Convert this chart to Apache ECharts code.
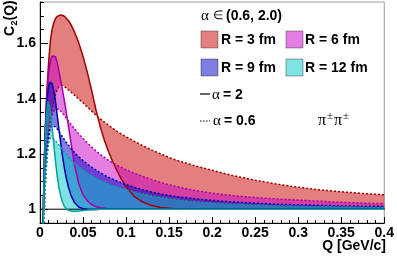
<!DOCTYPE html>
<html><head><meta charset="utf-8">
<script src="https://cdn.jsdelivr.net/npm/echarts@6/dist/echarts.min.js"></script>
<style>html,body{margin:0;padding:0;background:#fff}#c{width:397px;height:257px}</style>
</head><body><div id="c"></div>
<script>
// Q grid [GeV/c]
const Q = [0.002,0.003,0.004,0.005,0.006,0.007,0.008,0.009,0.010,0.011,0.012,0.013,0.014,
0.016,0.018,0.020,0.022,0.024,0.026,0.028,0.030,0.033,0.036,0.040,
0.045,0.050,0.055,0.060,0.065,0.070,0.075,0.080,0.085,0.090,0.095,0.100,
0.110,0.120,0.130,0.140,0.150,0.160,0.180,0.200,0.225,0.250,0.275,0.300,0.325,0.350,0.375,0.400];

// R = 3 fm
const R3_a2 = [0.45,0.80,1.02,1.17,1.28,1.36,1.43,1.48,1.53,1.57,1.605,1.63,1.65,
1.675,1.69,1.698,1.702,1.703,1.702,1.699,1.694,1.683,1.668,1.642,
1.603,1.553,1.495,1.43,1.36,1.298,1.248,1.205,1.168,1.136,1.106,1.081,
1.045,1.025,1.013,1.006,1.003,1.001,1.0,1.0,1.0,1.0,1.0,1.0,1.0,1.0,1.0,1.0];
const R3_a06 = [0.40,0.72,0.92,1.04,1.11,1.165,1.21,1.25,1.28,1.305,1.328,1.347,1.363,
1.392,1.415,1.432,1.443,1.448,1.448,1.445,1.44,1.432,1.424,1.413,
1.399,1.385,1.37,1.355,1.34,1.327,1.315,1.303,1.292,1.281,1.271,1.262,
1.245,1.229,1.214,1.2,1.187,1.176,1.157,1.141,1.121,1.105,1.091,1.079,1.07,1.063,1.057,1.052];
// R = 6 fm
const R6_a2 = [0.45,0.80,1.02,1.17,1.275,1.35,1.41,1.455,1.49,1.515,1.533,1.546,1.554,
1.56,1.552,1.53,1.50,1.467,1.433,1.398,1.36,1.302,1.24,1.162,
1.092,1.052,1.03,1.017,1.009,1.005,1.003,1.001,1.0,1.0,1.0,1.0,
1.0,1.0,1.0,1.0,1.0,1.0,1.0,1.0,1.0,1.0,1.0,1.0,1.0,1.0,1.0,1.0];
const R6_a06 = [0.40,0.70,0.90,1.01,1.09,1.15,1.195,1.235,1.265,1.29,1.31,1.327,1.34,
1.355,1.362,1.363,1.36,1.355,1.348,1.34,1.332,1.32,1.307,1.292,
1.273,1.256,1.24,1.225,1.211,1.198,1.187,1.176,1.167,1.158,1.15,1.143,
1.13,1.118,1.107,1.097,1.088,1.081,1.068,1.058,1.049,1.042,1.037,1.033,1.029,1.025,1.022,1.02];
// R = 9 fm
const R9_a2 = [0.45,0.80,1.02,1.16,1.26,1.33,1.385,1.42,1.444,1.458,1.464,1.462,1.455,
1.43,1.39,1.34,1.29,1.24,1.195,1.155,1.12,1.08,1.05,1.024,
1.008,1.002,1.0,0.999,0.999,1.0,1.0,1.0,1.0,1.0,1.0,1.0,
1.0,1.0,1.0,1.0,1.0,1.0,1.0,1.0,1.0,1.0,1.0,1.0,1.0,1.0,1.0,1.0];
const R9_a06 = [0.40,0.69,0.89,1.0,1.08,1.14,1.19,1.23,1.26,1.28,1.293,1.3,1.303,
1.303,1.298,1.29,1.281,1.272,1.262,1.253,1.244,1.232,1.22,1.205,
1.19,1.176,1.163,1.152,1.142,1.132,1.123,1.115,1.108,1.101,1.095,1.089,
1.079,1.07,1.062,1.055,1.05,1.045,1.038,1.032,1.026,1.022,1.018,1.016,1.014,1.012,1.011,1.01];
// R = 12 fm
const R12_a2 = [0.45,0.80,1.01,1.15,1.245,1.31,1.355,1.39,1.386,1.372,1.35,1.325,1.298,
1.235,1.172,1.12,1.078,1.048,1.027,1.012,1.003,0.996,0.993,0.992,
0.993,0.995,0.997,0.998,0.999,1.0,1.0,1.0,1.0,1.0,1.0,1.0,
1.0,1.0,1.0,1.0,1.0,1.0,1.0,1.0,1.0,1.0,1.0,1.0,1.0,1.0,1.0,1.0];
const R12_a06 = [0.40,0.68,0.88,0.99,1.07,1.13,1.175,1.21,1.235,1.25,1.258,1.26,1.259,
1.254,1.247,1.24,1.232,1.224,1.216,1.208,1.2,1.19,1.18,1.168,
1.155,1.143,1.132,1.122,1.113,1.105,1.098,1.091,1.085,1.08,1.075,1.07,
1.062,1.055,1.048,1.043,1.038,1.034,1.027,1.022,1.018,1.015,1.012,1.01,1.009,1.008,1.007,1.006];

const xTicks = [0,0.05,0.1,0.15,0.2,0.25,0.3,0.35,0.4];
const yTickLabels = [1,1.2,1.4,1.6];

const bands = [
  {solid:R3_a2, dash:R3_a06, fill:'rgba(200,0,0,0.5)', line:'#a00000', label:'R = 3 fm'},
  {solid:R6_a2, dash:R6_a06, fill:'rgba(200,0,200,0.5)', line:'#a800a8', label:'R = 6 fm'},
  {solid:R9_a2, dash:R9_a06, fill:'rgba(0,0,200,0.5)', line:'#0000a8', label:'R = 9 fm'},
  {solid:R12_a2, dash:R12_a06, fill:'rgba(0,200,200,0.5)', line:'#00a0a0', label:'R = 12 fm'}
];

const pairs = arr => Q.map((q,i)=>[q, arr[i]]);
const series = [];
bands.forEach((b,k)=>{
  series.push({
    type:'custom', coordinateSystem:'cartesian2d', clip:true, silent:true, z:1+k,
    data:[[0,1]],
    renderItem:(params, api)=>{
      const pts=[];
      for(let i=0;i<Q.length;i++) pts.push(api.coord([Q[i], b.solid[i]]));
      for(let i=Q.length-1;i>=0;i--) pts.push(api.coord([Q[i], b.dash[i]]));
      return {type:'polygon', shape:{points:pts}, style:{fill:b.fill, stroke:null}};
    }
  });
});
series.push({type:'line', data:[[0,1],[0.4,1]], symbol:'none', lineStyle:{color:'#000', width:1}, z:10, silent:true});
bands.forEach((b,k)=>{
  series.push({type:'line', data:pairs(b.solid), symbol:'none', clip:true, z:20,
    lineStyle:{color:b.line, width:1.5}, silent:true});
  series.push({type:'line', data:pairs(b.dash), symbol:'none', clip:true, z:20,
    lineStyle:{color:b.line, width:1.5, type:[2,2]}, silent:true});
});

const bold = {fontFamily:'Liberation Sans', fontWeight:'bold', fontSize:14, fill:'#000'};
const sym = {fontFamily:'Liberation Serif', fontSize:15, fill:'#000'};
function txt(x,y,text,st,extra){return Object.assign({type:'text', x, y, style:Object.assign({text, textVerticalAlign:'middle'}, st)}, extra||{});}

const graphic = [
  // y-axis title C2(Q), rotated
  txt(10,36,'C',Object.assign({},bold,{textAlign:'left'}),{rotation:Math.PI/2}),
  txt(14.5,25.5,'2',Object.assign({},bold,{fontSize:9,textAlign:'left'}),{rotation:Math.PI/2}),
  txt(10,20.5,'(Q)',Object.assign({},bold,{textAlign:'left'}),{rotation:Math.PI/2}),
  // x-axis title
  txt(386,246,'Q [GeV/c]',Object.assign({},bold,{textAlign:'right'})),
  // legend header
  txt(201,16,'α',sym),
  txt(213,16,'∈',Object.assign({},sym,{fontSize:12})),
  txt(226,16,'(0.6, 2.0)',bold),
  // boxes
  {type:'rect', shape:{x:201,y:31,width:17,height:17}, style:{fill:bands[0].fill, stroke:'rgba(0,0,0,0.35)', lineWidth:1}},
  {type:'rect', shape:{x:286,y:31,width:17,height:17}, style:{fill:bands[1].fill, stroke:'rgba(0,0,0,0.35)', lineWidth:1}},
  {type:'rect', shape:{x:201,y:59,width:17,height:17}, style:{fill:bands[2].fill, stroke:'rgba(0,0,0,0.35)', lineWidth:1}},
  {type:'rect', shape:{x:286,y:59,width:17,height:17}, style:{fill:bands[3].fill, stroke:'rgba(0,0,0,0.35)', lineWidth:1}},
  txt(221,40,bands[0].label,bold),
  txt(305,40,bands[1].label,bold),
  txt(221,68,bands[2].label,bold),
  txt(305,68,bands[3].label,bold),
  // alpha rows
  {type:'line', shape:{x1:200,y1:94,x2:210,y2:94}, style:{stroke:'#000', lineWidth:1.2}},
  txt(212,95,'α',sym),
  txt(223,95,'= 2',bold),
  {type:'line', shape:{x1:200,y1:121,x2:210,y2:121}, style:{stroke:'#000', lineWidth:1.2, lineDash:[1.5,1.5]}},
  txt(213,121,'α',sym),
  txt(224,121,'= 0.6',bold),
  // pi+- pi+-
  txt(318,121,'π',Object.assign({},sym,{fontSize:16})),
  txt(327,116,'±',Object.assign({},sym,{fontSize:11})),
  txt(334,121,'π',Object.assign({},sym,{fontSize:16})),
  txt(343,116,'±',Object.assign({},sym,{fontSize:11}))
];

const chart = echarts.init(document.getElementById('c'), null, {renderer:'canvas'});
chart.setOption({
  animation:false,
  backgroundColor:'#fff',
  grid:{left:40, top:2, right:10, bottom:34, show:true, borderColor:'#999', borderWidth:1, backgroundColor:'transparent'},
  xAxis:{type:'value', min:0, max:0.4, interval:0.05,
    axisLine:{lineStyle:{color:'#000', width:1}},
    axisTick:{inside:true, length:6, lineStyle:{color:'#000'}},
    minorTick:{show:true, splitNumber:5, length:3, lineStyle:{color:'#000'}},
    splitLine:{show:false},
    axisLabel:{color:'#000', fontFamily:'Liberation Sans', fontWeight:'bold', fontSize:14, margin:3,
      formatter:v=>String(parseFloat(v.toFixed(3)))}
  },
  yAxis:[
    {type:'value', min:0.95, max:1.75,
      axisLine:{lineStyle:{color:'#000', width:1}},
      axisTick:{inside:true, length:8, customValues:yTickLabels, lineStyle:{color:'#000'}},
      splitLine:{show:false},
      axisLabel:{customValues:yTickLabels, color:'#000', fontFamily:'Liberation Sans', fontWeight:'bold', fontSize:14, margin:4,
        formatter:v=>String(parseFloat(v.toFixed(2)))}
    },
    {type:'value', min:0.95, max:1.75, interval:0.05, position:'left',
      axisLine:{show:false}, axisLabel:{show:false}, splitLine:{show:false},
      axisTick:{inside:true, length:4, lineStyle:{color:'#000'}}}
  ],
  series:series,
  graphic:graphic
});
</script></body></html>
